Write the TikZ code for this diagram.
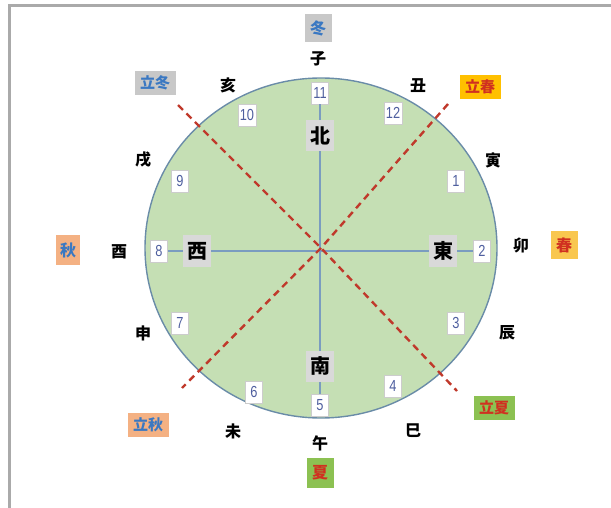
\documentclass[tikz,border=0pt]{standalone}
\usepackage{fontspec}
\newfontfamily\cjk{Noto Sans CJK JP}
\newfontfamily\numfont{Liberation Sans}[FakeStretch=0.8]
\definecolor{circfill}{HTML}{C5DFB4}
\definecolor{circedge}{HTML}{6A8CA8}
\definecolor{axis}{HTML}{7A9CC0}
\definecolor{dashred}{HTML}{C0392B}
\definecolor{numblue}{HTML}{4F5F9F}
\definecolor{boxgray}{HTML}{CCCCCC}
\definecolor{dirgray}{HTML}{D9D9D9}
\definecolor{sblue}{HTML}{3A78C2}
\definecolor{sred}{HTML}{D03020}
\definecolor{wintergray}{HTML}{C8C8C8}
\definecolor{springor}{HTML}{FFC000}
\definecolor{springyl}{HTML}{F9C74F}
\definecolor{autumn}{HTML}{F4B183}
\definecolor{summer}{HTML}{8CC152}
\definecolor{frame}{HTML}{AAAAAA}
\tikzset{
  zod/.style={font=\cjk\bfseries\fontsize{16}{16}\selectfont, inner sep=0pt},
  dirbox/.style={fill=dirgray, font=\cjk\bfseries\fontsize{20}{20}\selectfont, minimum width=28pt, minimum height=31pt, inner sep=1pt},
  numbox/.style={fill=white, draw=boxgray, line width=0.6pt, font=\numfont\fontsize{16}{16}\selectfont, text=numblue, minimum width=17pt, minimum height=22pt, inner sep=2pt},
  seasonone/.style={font=\cjk\bfseries\fontsize{16}{16}\selectfont, minimum width=27pt, minimum height=28pt, inner sep=1pt},
  seasontwo/.style={font=\cjk\bfseries\fontsize{15}{15}\selectfont, minimum width=41pt, minimum height=24pt, inner sep=1pt},
  axisline/.style={draw=axis, line width=1.3pt},
  redline/.style={draw=dashred, line width=2.4pt, dash pattern=on 7pt off 5pt}
}
\begin{document}
\begin{tikzpicture}[x=1pt, y=-1pt]
\useasboundingbox (0,0) rectangle (611,508);
\draw[frame, line width=3pt] (9.5,508) -- (9.5,5.5) -- (611,5.5);
% circle
\coordinate (c) at (321,248);
\filldraw[fill=circfill, draw=circedge, line width=1.4pt] (c) ellipse [x radius=176, y radius=170];
% number boxes
\node[numbox] (n11) at (320,93) {11};
\node[numbox] (n10) at (247,115) {10};
\node[numbox] (n12) at (393,113) {12};
\node[numbox] (n9) at (180,181) {9};
\node[numbox] (n1) at (456,181) {1};
\node[numbox] (n8) at (159,251) {8};
\node[numbox] (n2) at (482,251) {2};
\node[numbox] (n7) at (180,323) {7};
\node[numbox] (n3) at (456,323) {3};
\node[numbox] (n6) at (254,392) {6};
\node[numbox] (n5) at (320,405) {5};
\node[numbox] (n4) at (393,386) {4};
% axes
\path[axisline] (n11) -- (n5);
\path[axisline] (n8) -- (n2);
% dashed diagonals
\coordinate (ur) at (448,104);
\coordinate (ll) at (182,388);
\coordinate (ul) at (178,105);
\coordinate (lr) at (457,391);
\path[redline] (ur) -- (c) -- (ll);
\path[redline] (ul) -- (c) -- (lr);
% direction boxes
\node[dirbox] (north) at (320,136) {北};
\node[dirbox] (west) at (197,251) {西};
\node[dirbox] (east) at (443,251) {東};
\node[dirbox] (south) at (320,366) {南};
% zodiac
\node[zod] (zi) at (318,59) {子};
\node[zod] (hai) at (228,85) {亥};
\node[zod] (chou) at (418,86) {丑};
\node[zod] (xu) at (143,160) {戌};
\node[zod] (yin) at (493,160) {寅};
\node[zod] (you) at (119,252) {酉};
\node[zod] (mao) at (521,245) {卯};
\node[zod] (shen) at (143,333) {申};
\node[zod] (chen) at (507,333) {辰};
\node[zod] (wei) at (233,431) {未};
\node[zod] (wu) at (320,443) {午};
\node[zod] (si) at (413,431) {巳};
% seasons
\node[seasonone, fill=wintergray, text=sblue] (dong) at (318,28) {冬};
\node[seasontwo, fill=wintergray, text=sblue] (lidong) at (155,83) {立冬};
\node[seasontwo, fill=springor, text=sred] (lichun) at (480,87) {立春};
\node[seasonone, fill=springyl, text=sred] (chun) at (564,245) {春};
\node[seasonone, fill=autumn, text=sblue, minimum width=24pt, minimum height=30pt] (qiu) at (68,250) {秋};
\node[seasontwo, fill=autumn, text=sblue] (liqiu) at (148,425) {立秋};
\node[seasontwo, fill=summer, text=sred] (lixia) at (494,408) {立夏};
\node[seasonone, fill=summer, text=sred, minimum height=30pt] (xia) at (320,473) {夏};
\end{tikzpicture}
\end{document}
